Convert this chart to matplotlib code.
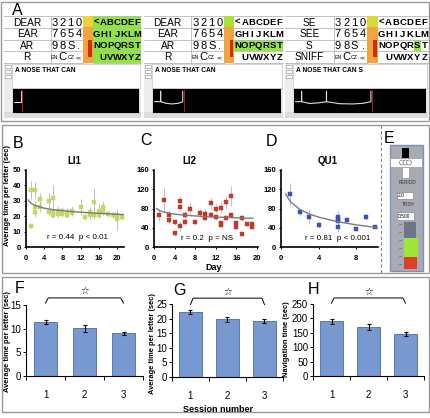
import matplotlib
matplotlib.use("Agg")
import matplotlib.pyplot as plt
from matplotlib.patches import Rectangle, Circle

plt.rcParams["font.family"] = ["Liberation Sans", "DejaVu Sans"]

# ---- panel A: speller screenshots ----
shot_words = [["DEAR", "EAR", "AR", "R"],
              ["DEAR", "EAR", "AR", "R"],
              ["SE", "SEE", "S", "SNIFF"]]
digit_rows = [["3", "2", "1", "0"], ["7", "6", "5", "4"],
              ["9", "8", "S", "."], ["EN", "C", "CZ", "<<"]]
letter_rows = ["<ABCDEF", "GHIJKLM", "NOPQRST", " UVWXYZ"]
typed_text = ["A NOSE THAT CAN", "A NOSE THAT CAN", "A NOSE THAT CAN S"]

trace1_x = [0, 0.6, 0.6]
trace1_y = [0.45, 0.45, 0.9]
trace2_x = [0, 0.6, 0.6, 0.6, 1.0, 1.5, 2.0, 2.34, 2.34]
trace2_y = [0.45, 0.45, 0.9, 0.45, 0.38, 0.35, 0.38, 0.45, 0.9]
trace3_x = [0, 0.58, 0.58, 0.58, 1.2, 1.9, 2.48, 2.48, 2.48, 3.5, 4.5, 5.3, 5.87, 5.87]
trace3_y = [0.45, 0.45, 0.9, 0.45, 0.37, 0.4, 0.45, 0.9, 0.45, 0.36, 0.35, 0.38, 0.45, 0.9]
traces = [(trace1_x, trace1_y), (trace2_x, trace2_y), (trace3_x, trace3_y)]
cursor_x = [0.68, 2.42, 5.95]

# ---- panels B-D: time per letter by day ----
B_x = [1, 1, 2, 2, 2, 3, 3, 5, 5, 6, 6, 6, 7, 7, 8, 8, 9, 9, 10, 10,
       12, 13, 14, 14, 15, 15, 16, 16, 17, 17, 18, 19, 20, 20, 21]
B_y = [37, 13.6, 37, 26, 22.6, 31, 26, 30, 22.6, 32, 22.6, 21, 23.7, 21.5, 23.7, 21.5, 22.6, 21, 23.7, 22,
       26, 19.4, 23, 20.5, 29.5, 20.5, 23.7, 21, 26, 23.7, 21.5, 21, 20.5, 18, 19.8]
B_err = [5.6, 1, 5, 4, 3, 4, 3, 5, 2, 8, 3, 2, 3, 2, 2, 2, 3, 2, 3, 2,
         5, 2, 3, 2, 8.5, 2, 4, 2, 4, 3, 2, 2, 2, 7, 2]
B_fit_x = [0.5, 1, 2, 4, 6, 10, 15, 21.5]
B_fit_y = [30.5, 28.6, 26.9, 25.2, 24.2, 23, 22, 21]

C_x = [1, 2, 3, 3, 4, 4, 5, 5, 5, 6, 6, 7, 8, 9, 10, 10, 11, 11, 12, 12,
       13, 13, 13, 14, 14, 15, 15, 16, 16, 17, 17, 18, 19, 19]
C_y = [66.5, 97.7, 66.5, 56, 51, 28.4, 95.6, 84, 44, 66.5, 51, 80, 52.7, 70, 68, 61, 90.8, 66.5, 80, 61.7,
       81.8, 49, 45.7, 94, 61, 106, 66.5, 49, 42, 59.6, 26, 47.8, 47, 42]
C_err = [12, 25, 10, 8, 6, 5, 10, 8, 10, 8, 5, 12, 6, 8, 10, 5, 12, 8, 10, 6,
         12, 6, 5, 12, 5, 20, 5, 5, 5, 6, 3, 5, 5, 4]
C_fit_x = [0.5, 1, 2, 4, 6, 10, 15, 19.2]
C_fit_y = [80, 76, 72.2, 68.3, 66, 63.2, 61, 59.6]

D_x = [1, 2, 3, 4, 6, 6, 6, 6, 7, 8, 9, 10]
D_y = [110, 72, 63, 46, 63, 58, 54, 42, 57, 37, 62, 42]
D_err = [22, 8, 15, 6, 12, 10, 8, 10, 5, 4, 6, 3]
D_fit_x = [0.5, 1, 2, 3, 4, 6, 8, 10.3]
D_fit_y = [110, 94, 78, 68.6, 62, 52.6, 46, 40]

# ---- panels F-H: by session ----
sessions = ["1", "2", "3"]
F_means = [11.4, 10.1, 9.0]
F_err = [0.5, 0.7, 0.4]
G_means = [22.3, 19.7, 19.3]
G_err = [0.7, 0.7, 0.7]
H_means = [190, 171, 146]
H_err = [8, 10, 6]

W, H = 431, 418
fig = plt.figure(figsize=(W / 100, H / 100), dpi=100)


def px_axes(l, t, r, b, **kw):
    return fig.add_axes([l / W, 1 - b / H, (r - l) / W, (b - t) / H], **kw)


ov = px_axes(0, 0, W, H)
ov.set_xlim(0, W)
ov.set_ylim(H, 0)
ov.axis("off")

grey = "#9a9a9a"
ov.add_patch(Rectangle((1.5, 1.5), 428, 119, fill=False, ec=grey, lw=1))
ov.add_patch(Rectangle((2.5, 125), 426.5, 148, fill=False, ec=grey, lw=1))
ov.add_patch(Rectangle((2.5, 277), 426.5, 135, fill=False, ec=grey, lw=1))


def letter(x, y, s):
    ov.text(x, y, s, fontsize=11.5, va="baseline", ha="left")


# ---------- panel A ----------
letter(12, 15, "A")
shots = [(4, 141), (144, 283), (285, 428)]
rows = [16, 28, 39.5, 51, 63]
green = "#8fe43e"
for i, (l, r) in enumerate(shots):
    w = r - l
    c1, c2, c3 = l + 0.34 * w, l + 0.575 * w, l + 0.65 * w
    cw = (r - c3) / 7
    ov.add_patch(Rectangle((l, 16), w, 102, fc="#ececec", ec="none"))
    ov.add_patch(Rectangle((l, 16), c2 - l, 47, fc="white", ec="none"))
    ov.add_patch(Rectangle((c3, 16), r - c3, 47, fc="white", ec="none"))
    if i == 0:
        ov.add_patch(Rectangle((c3, 16), r - c3, 47, fc=green, ec="none"))
    elif i == 1:
        ov.add_patch(Rectangle((c3, rows[2]), r - c3, rows[3] - rows[2], fc=green, ec="none"))
    else:
        ov.add_patch(Rectangle((c3 + 5 * cw, rows[2]), cw, rows[3] - rows[2],
                               fc=green, ec="none"))
    ov.add_patch(Rectangle((c2, 16), c3 - c2, 47, fc="#f5a33c", ec="none"))
    top_col = "#f0d23a" if i == 0 else ("#a9e03a" if i == 1 else "#d8dc3a")
    ov.add_patch(Rectangle((c2, 16), c3 - c2, 11, fc=top_col, ec="none"))
    ov.add_patch(Rectangle((c2 + 0.55 * (c3 - c2), rows[2]), 0.32 * (c3 - c2), 17.5,
                           fc="#d42a0a", ec="none"))
    for yy in rows:
        ov.plot([l, c2], [yy, yy], color="#b8b8b8", lw=0.6)
        ov.plot([c3, r], [yy, yy], color="#b8b8b8", lw=0.6)
    ov.plot([c1, c1], [16, 63], color="#b8b8b8", lw=0.6)
    for k in range(4):
        yc = (rows[k] + rows[k + 1]) / 2 + 0.5
        ov.text((l + c1) / 2, yc, shot_words[i][k], fontsize=7.3,
                ha="center", va="center")
        dw = (c2 - c1) / 4
        for j, d in enumerate(digit_rows[k]):
            fs = 8 if len(d) == 1 else 3.8
            ov.text(c1 + dw * (j + 0.5), yc, d, fontsize=fs,
                    ha="center", va="center")
        for j, ch in enumerate(letter_rows[k]):
            ov.text(c3 + cw * (j + 0.5), yc, ch, fontsize=6.8,
                    fontweight="bold", ha="center", va="center")
    # typed text box
    ov.add_patch(Rectangle((l + 8, 64), w - 9, 24, fc="white", ec="#c8c8c8", lw=0.5))
    for yy in (65, 70, 75):
        ov.add_patch(Rectangle((l + 1, yy), 6, 3, fc="white", ec="#909090", lw=0.4))
    ov.text(l + 11, 71, typed_text[i], fontsize=4.8,
            fontweight="bold", ha="left", va="center")
    # signal trace
    ov.add_patch(Rectangle((l, 112), w, 6, fc="#dcdcdc", ec="none"))
    bx = px_axes(l + 9, 89, r - 3, 112)
    bx.set_facecolor("black")
    bx.set_xlim(0, 10)
    bx.set_ylim(0, 1)
    bx.set_xticks([])
    bx.set_yticks([])
    tx, ty = traces[i]
    bx.plot(tx, ty, color="#dddddd", lw=0.8)
    bx.axvline(cursor_x[i], color="#a02020", lw=0.8)

# ---------- panel E ----------
ov.plot([381, 381], [125, 273], color="#888888", lw=0.8, ls=(0, (3, 2)))
letter(384, 143, "E")
ov.add_patch(Rectangle((390, 145), 33, 126, fc="#a9abb4", ec="#7f8fb8", lw=1))
ov.add_patch(Rectangle((402, 148), 7, 10, fc="black", ec="none"))
ov.add_patch(Rectangle((390, 158), 32, 9, fc="white", ec="#888888", lw=0.4))
for cx in (402, 405.5, 409):
    ov.add_patch(Circle((cx, 162.5), 2.5, fc="white", ec="#777777", lw=0.5))
ov.add_patch(Rectangle((402, 167), 7, 11, fc="white", ec="#888888", lw=0.4))
ov.text(408, 183, "PERIOD", fontsize=3.3, ha="center", va="center", color="#333333")
ov.add_patch(Rectangle((397, 192), 16, 7, fc="white", ec="#777777", lw=0.4))
ov.text(398, 195.5, "2.0", fontsize=3.5, ha="left", va="center")
ov.text(408, 204, "TRSH", fontsize=3.3, ha="center", va="center", color="#333333")
ov.add_patch(Rectangle((397, 212), 17, 8, fc="white", ec="#777777", lw=0.4))
ov.text(398, 216, "0.500", fontsize=3.5, ha="left", va="center")
ov.add_patch(Rectangle((404, 222), 12, 20, fc="#70748a", ec="none"))
ov.add_patch(Rectangle((404, 238), 14, 19, fc="#9be834", ec="none"))
ov.add_patch(Rectangle((404, 257), 13, 12, fc="#d9412b", ec="none"))
for yy in range(224, 270, 8):
    ov.plot([399, 401], [yy, yy], color="#555555", lw=0.4)

# ---------- panels B-D ----------
letter(12.5, 147.5, "B")
letter(140, 145, "C")
letter(266, 145.5, "D")


def scatter_panel(ax, x, y, err, color, fx, fy, xlim, ylim, xt, yt, stat, sx, sy):
    ax.errorbar(x, y, yerr=err, fmt="s", ms=2.2, mfc=color, mec=color, mew=0.3,
                ecolor="#b5b5b5", elinewidth=0.6, capsize=0, zorder=2)
    ax.plot(fx, fy, color="#7a7a7a", lw=1.0, zorder=3)
    ax.set_xlim(*xlim)
    ax.set_ylim(*ylim)
    ax.set_xticks(xt)
    ax.set_yticks(yt)
    for s in ("top", "right"):
        ax.spines[s].set_visible(False)
    for s in ("left", "bottom"):
        ax.spines[s].set_linewidth(1.2)
    ax.tick_params(length=1.5, width=0.7, labelsize=5.5, pad=2)
    ax.tick_params(axis="x", pad=4)
    for lab in ax.get_xticklabels() + ax.get_yticklabels():
        lab.set_fontweight("bold")
    ax.patch.set_alpha(0)
    ax.text(sx, sy, stat, fontsize=5.8, ha="center", va="center")


axB = px_axes(26, 170, 124, 247)
scatter_panel(axB, B_x, B_y, B_err, "#c2d766", B_fit_x, B_fit_y, (0, 21.5), (0, 50),
              [0, 4, 8, 12, 16, 20], [0, 10, 20, 30, 40, 50],
              "r = 0.44  p < 0.01", 11.3, 6.1)
axC = px_axes(154, 170, 258, 247)
scatter_panel(axC, C_x, C_y, C_err, "#c0392b", C_fit_x, C_fit_y, (0, 20.2), (0, 160),
              [0, 4, 8, 12, 16, 20], [0, 40, 80, 120, 160],
              "r = 0.2  p = NS", 10.4, 18)
axD = px_axes(281, 170, 378, 247)
scatter_panel(axD, D_x, D_y, D_err, "#3b4fc0", D_fit_x, D_fit_y, (0, 10.3), (0, 160),
              [0, 4, 8], [0, 40, 80, 120, 160],
              "r = 0.81  p < 0.001", 6.0, 18)

ov.text(74, 161, "LI1", fontsize=7, fontweight="bold", ha="center", va="center")
ov.text(189, 161, "LI2", fontsize=7, fontweight="bold", ha="center", va="center")
ov.text(328, 161, "QU1", fontsize=7, fontweight="bold", ha="center", va="center")
ov.text(8, 196, "Average time per letter (sec)", fontsize=5.4, fontweight="bold",
        rotation=90, ha="center", va="center")
ov.text(214, 268, "Day", fontsize=6.5, fontweight="bold", ha="center", va="center")

# ---------- panels F-H ----------
letter(15, 293, "F")
letter(173, 295, "G")
letter(308, 294, "H")


def bar_panel(ax, means, err, ylim, yt, by, drop, sy):
    x = [1, 2, 3]
    ax.bar(x, means, width=0.6, color="#7799d0", edgecolor="#5677b8", lw=0.7,
           yerr=err, error_kw=dict(ecolor="black", elinewidth=0.8, capsize=1.5, capthick=0.8))
    ax.set_xlim(0.5, 3.5)
    ax.set_ylim(*ylim)
    ax.set_yticks(yt)
    ax.set_xticks(x, sessions)
    ax.set_xticks([0.5, 1.5, 2.5, 3.5], minor=True)
    ax.tick_params(axis="x", which="major", length=0, pad=10)
    ax.tick_params(axis="x", which="minor", length=3, width=0.7)
    ax.tick_params(axis="y", length=2.5, width=0.7, pad=1)
    for s in ("top", "right"):
        ax.spines[s].set_visible(False)
    for lab in ax.get_xticklabels() + ax.get_yticklabels():
        lab.set_fontsize(7)
    ax.patch.set_alpha(0)
    ax.plot([1.0, 1.07, 2.93, 3.0], [by - drop, by, by, by - drop], color="black",
            lw=0.7, clip_on=False)
    ax.text(2, sy, "\u2606", fontsize=7, ha="center", va="center", family="DejaVu Sans",
            clip_on=False)


axF = px_axes(26, 305, 143, 376)
bar_panel(axF, F_means, F_err, (0, 15), [0, 5, 10, 15], 16.5, 1.1, 17.9)
axG = px_axes(172, 304, 283, 377)
bar_panel(axG, G_means, G_err, (0, 25), [0, 5, 10, 15, 20, 25], 27.0, 2.2, 29.3)
axH = px_axes(313, 304, 424, 376)
bar_panel(axH, H_means, H_err, (0, 250), [0, 50, 100, 150, 200, 250], 271, 18, 294)

ov.text(8, 341, "Average time per letter (sec)", fontsize=5.4, fontweight="bold",
        rotation=90, ha="center", va="center")
ov.text(153, 343, "Average time per letter (sec)", fontsize=5.4, fontweight="bold",
        rotation=90, ha="center", va="center")
ov.text(287, 339, "Navigation time (sec)", fontsize=5.4, fontweight="bold",
        rotation=90, ha="center", va="center")
ov.text(218, 410, "Session number", fontsize=6.5, fontweight="bold", ha="center", va="center")

fig.savefig("out.png", dpi=100)
